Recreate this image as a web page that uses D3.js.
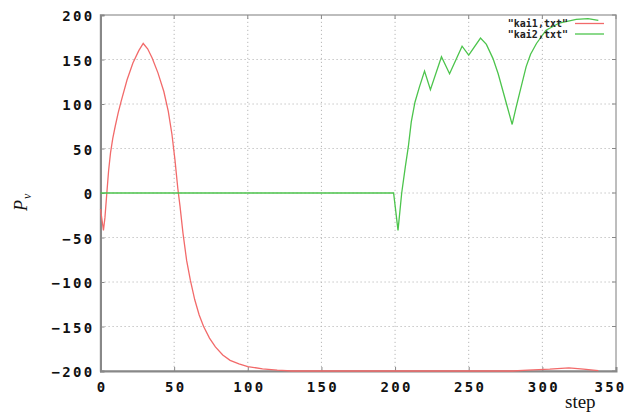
<!DOCTYPE html>
<html lang="en">
<head>
    <meta charset="UTF-8">
    <title>P_v vs step</title>
    <style>
        body { margin: 0; background: #fff; }
        .tick text {
            font: bold 14px "DejaVu Sans Mono", monospace;
            letter-spacing: 2.3px;
            fill: #111;
        }
        .grid line {
            stroke: #b8b8b8;
            stroke-dasharray: 1.2,2.8;
        }
        .legend text {
            font: bold 10px "DejaVu Sans Mono", monospace;
            fill: #222;
        }
    </style>
</head>
<body>
    <script src="https://d3js.org/d3.v7.min.js"></script>
    <script>
        // series
        const kai1Steps = [0, 2, 3, 4.3, 5.5, 6.8, 8.3, 10, 12, 14, 18, 22, 26, 29, 32, 35, 39, 43, 46, 48.5, 50.5, 52.5, 54, 56, 58.5, 61, 64, 67, 70, 74, 78, 83, 88, 94, 100, 110, 120, 130, 280, 290, 305, 318, 328, 338];
        const kai1Values = [-18, -42, -28, 0, 25, 45, 61, 75, 90, 103, 127, 146, 160, 168, 162, 152, 135, 114, 92, 66, 38, 5, -15, -45, -76, -98, -120, -137, -150, -163, -173, -182, -188, -192, -195, -197.5, -199, -200, -200, -199, -198, -196.5, -198, -199.5];

        const kai2Steps = [0, 199, 202, 204.5, 207, 209, 211, 213.5, 216.5, 220, 224, 231.5, 237, 245.5, 250, 258, 262, 266.5, 270, 273, 276, 279.5, 282, 284.5, 289, 292, 296, 302.5, 311.5, 323, 331, 338];
        const kai2Values = [0, 0, -42, 0, 30, 52, 80, 102, 119, 137, 116, 153, 134, 165, 155, 174, 167, 151, 134, 116, 98, 77, 95, 112, 142, 156, 168, 183, 191, 195, 196, 194];

        const xTicks = [0, 50, 100, 150, 200, 250, 300, 350];
        const yTicks = [-200, -150, -100, -50, 0, 50, 100, 150, 200];

        const seriesNames = ['"kai1,txt"', '"kai2,txt"'];
        const seriesColors = ["#f26a6a", "#4cc44c"];

        const width = 640, height = 415;
        const margin = { top: 15, right: 24, bottom: 44, left: 100.5 };

        const svg = d3.select("body").append("svg")
            .attr("width", width)
            .attr("height", height);

        const x = d3.scaleLinear().domain([0, 350]).range([margin.left, width - margin.right]);
        const y = d3.scaleLinear().domain([-200, 200]).range([height - margin.bottom, margin.top]);

        // grid
        svg.append("g").attr("class", "grid")
            .selectAll("line.v").data(xTicks.slice(1, -1)).join("line")
            .attr("x1", d => x(d)).attr("x2", d => x(d))
            .attr("y1", y(-200)).attr("y2", y(200));
        svg.append("g").attr("class", "grid")
            .selectAll("line.h").data(yTicks.slice(1, -1)).join("line")
            .attr("x1", x(0)).attr("x2", x(350))
            .attr("y1", d => y(d)).attr("y2", d => y(d));

        // frame
        svg.append("rect")
            .attr("x", x(0)).attr("y", y(200))
            .attr("width", x(350) - x(0)).attr("height", y(-200) - y(200))
            .attr("fill", "none").attr("stroke", "#a8a8a8").attr("stroke-width", 1.5);

        // axes
        const xAxis = svg.append("g")
            .attr("transform", `translate(0,${y(-200)})`)
            .call(d3.axisBottom(x).tickValues(xTicks).tickSize(-4).tickPadding(11));
        xAxis.select(".domain").attr("stroke", "#888").attr("stroke-width", 2);
        xAxis.selectAll(".tick line").attr("stroke", "#888");
        xAxis.selectAll(".tick text").attr("dx", d => d === 350 ? -6 : 1);

        const yAxis = svg.append("g")
            .attr("transform", `translate(${x(0)},0)`)
            .call(d3.axisLeft(y).tickValues(yTicks).tickSize(-4).tickPadding(8));
        yAxis.select(".domain").attr("stroke", "#888").attr("stroke-width", 2);
        yAxis.selectAll(".tick line").attr("stroke", "#888");
        yAxis.selectAll(".tick text").attr("dx", 2).attr("dy", "0.4em");

        // right-side ticks
        svg.append("g")
            .selectAll("line").data(yTicks).join("line")
            .attr("x1", x(350) - 4).attr("x2", x(350))
            .attr("y1", d => y(d)).attr("y2", d => y(d))
            .attr("stroke", "#888");
        svg.append("g")
            .selectAll("line").data(xTicks).join("line")
            .attr("x1", d => x(d)).attr("x2", d => x(d))
            .attr("y1", y(200)).attr("y2", y(200) + 4)
            .attr("stroke", "#888");

        // lines
        const line = d3.line().x(d => x(d[0])).y(d => y(d[1]));
        const kai1 = d3.zip(kai1Steps, kai1Values);
        const kai2 = d3.zip(kai2Steps, kai2Values);

        svg.append("path").datum(kai1)
            .attr("d", line).attr("fill", "none")
            .attr("stroke", seriesColors[0]).attr("stroke-width", 1.3);
        svg.append("path").datum(kai2)
            .attr("d", line).attr("fill", "none")
            .attr("stroke", seriesColors[1]).attr("stroke-width", 1.3);

        // legend
        const legend = svg.append("g").attr("class", "legend");
        seriesNames.forEach((name, i) => {
            const ly = 23.5 + i * 10.5;
            legend.append("text")
                .attr("x", 568).attr("y", ly + 3.5)
                .attr("text-anchor", "end")
                .text(name);
            legend.append("line")
                .attr("x1", 575).attr("x2", 604)
                .attr("y1", ly).attr("y2", ly)
                .attr("stroke", seriesColors[i]).attr("stroke-width", 1.3);
        });

        // axis titles
        const yTitle = svg.append("text")
            .attr("transform", "translate(27,211) rotate(-90)")
            .attr("font-family", "Liberation Serif, serif")
            .attr("font-style", "italic")
            .attr("font-size", 18)
            .attr("fill", "#111");
        yTitle.append("tspan").text("P");
        yTitle.append("tspan").attr("font-size", 12).attr("dy", 4).attr("dx", 1).text("v");

        svg.append("text")
            .attr("x", 565).attr("y", 408)
            .attr("font-family", "Liberation Serif, serif")
            .attr("font-size", 19)
            .attr("fill", "#111")
            .text("step");
    </script>
</body>
</html>
